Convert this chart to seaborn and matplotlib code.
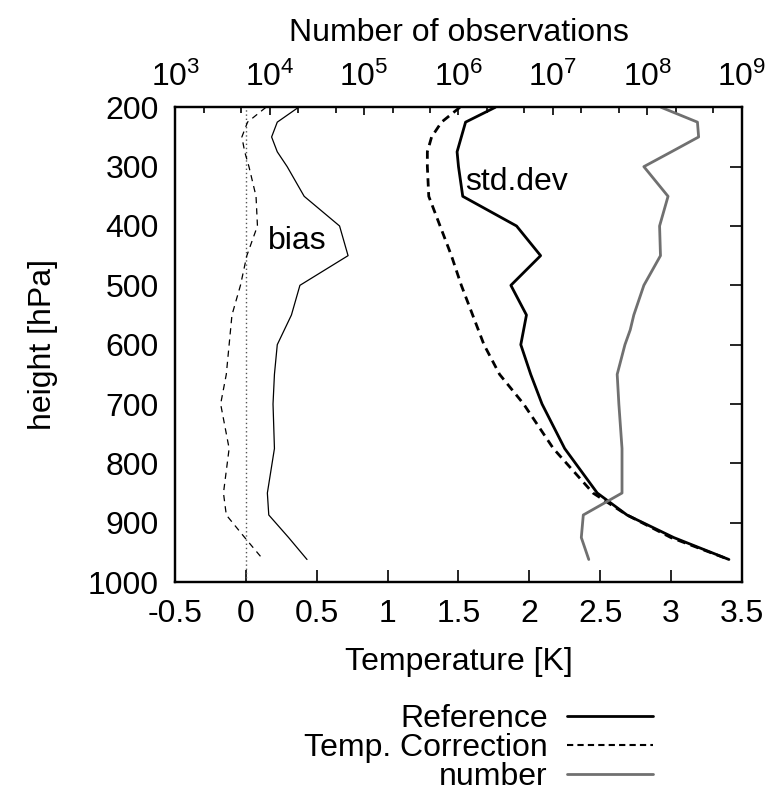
import numpy as np
import pandas as pd
import matplotlib
matplotlib.use("Agg")
import matplotlib.pyplot as plt
import seaborn as sns
from matplotlib.ticker import LogLocator, FixedLocator

# pressure levels [hPa]
levels = [200, 225, 250, 275, 300, 350, 400, 450, 500, 550, 575, 600,
          650, 700, 775, 850, 887, 925, 962]

# bias [K]
bias_ref = [0.37, 0.22, 0.18, 0.22, 0.29, 0.41, 0.66, 0.72, 0.38, 0.32, 0.27, 0.22,
            0.20, 0.19, 0.20, 0.15, 0.16, 0.30, 0.43]
bias_tc = [0.14, 0.01, -0.03, -0.01, 0.02, 0.07, 0.08, 0.005, -0.04, -0.10, -0.11, -0.12,
           -0.14, -0.18, -0.12, -0.16, -0.14, -0.01, 0.12]

# standard deviation [K]
std_ref = [1.76, 1.55, 1.52, 1.49, 1.50, 1.53, 1.91, 2.08, 1.87, 1.98, 1.96, 1.94,
           2.01, 2.09, 2.25, 2.48, 2.69, 3.02, 3.41]
std_tc = [1.51, 1.38, 1.31, 1.28, 1.28, 1.29, 1.37, 1.45, 1.52, 1.60, 1.64, 1.68,
          1.79, 1.96, 2.17, 2.45, 2.69, 3.00, 3.41]

# number of observations
n_obs = [1.4e8, 3.4e8, 3.5e8, 1.8e8, 9.2e7, 1.66e8, 1.35e8, 1.38e8, 9.2e7, 7.2e7, 6.6e7, 5.8e7,
         4.8e7, 5.0e7, 5.4e7, 5.4e7, 2.1e7, 2.0e7, 2.4e7]

xticks = [-0.5, 0, 0.5, 1, 1.5, 2, 2.5, 3, 3.5]
yticks = [200, 300, 400, 500, 600, 700, 800, 900, 1000]

df = pd.DataFrame({"p": levels, "bias_ref": bias_ref, "bias_tc": bias_tc,
                   "std_ref": std_ref, "std_tc": std_tc, "n": n_obs})

sns.set_style("white")
plt.rcParams["font.family"] = ["Liberation Sans", "DejaVu Sans"]
plt.rcParams["mathtext.fontset"] = "custom"
plt.rcParams["mathtext.rm"] = "Liberation Sans"
plt.rcParams["mathtext.it"] = "Liberation Sans"
plt.rcParams["text.color"] = "black"
plt.rcParams["axes.labelcolor"] = "black"
plt.rcParams["xtick.color"] = "black"
plt.rcParams["ytick.color"] = "black"

fs = 23
fig, ax = plt.subplots(figsize=(7.7, 7.96), dpi=100)
fig.subplots_adjust(left=0.2277, right=0.9632, top=0.8652, bottom=0.2688)

ax.axvline(0, color="#555555", lw=1, ls=(0, (1, 2)))

sns.lineplot(data=df, x="bias_ref", y="p", orient="y", sort=False, ax=ax,
             color="black", lw=0.9)
sns.lineplot(data=df, x="bias_tc", y="p", orient="y", sort=False, ax=ax,
             color="black", lw=0.9, ls=(0, (5, 4)))
sns.lineplot(data=df, x="std_ref", y="p", orient="y", sort=False, ax=ax,
             color="black", lw=2)
sns.lineplot(data=df, x="std_tc", y="p", orient="y", sort=False, ax=ax,
             color="black", lw=2, ls=(0, (3, 2)))

ax.set_xlim(-0.5, 3.5)
ax.set_ylim(1000, 200)
ax.xaxis.set_major_locator(FixedLocator(xticks))
ax.yaxis.set_major_locator(FixedLocator(yticks))
ax.set_xticklabels([f"{v:g}" for v in xticks])
ax.set_xlabel("Temperature [K]", fontsize=fs, labelpad=13)
ax.set_ylabel("height [hPa]", fontsize=fs, labelpad=21)
ax.tick_params(axis="both", labelsize=fs, direction="in", length=9, width=1.2,
               right=True, top=False, pad=12)

ax.text(0.36, 439, "bias", fontsize=fs, ha="center", va="baseline")
ax.text(1.91, 339, "std.dev", fontsize=fs, ha="center", va="baseline")

ax2 = ax.twiny()
sns.lineplot(data=df, x="n", y="p", orient="y", sort=False, ax=ax2,
             color="#707070", lw=2)
ax2.set_xscale("log")
ax2.set_xlim(1e3, 1e9)
ax2.set_ylim(1000, 200)
ax2.set_ylabel("")
ax2.xaxis.set_major_locator(LogLocator(base=10, numticks=10))
ax2.xaxis.set_minor_locator(LogLocator(base=10, subs=(2, 5), numticks=10))
ax2.set_xlabel("Number of observations", fontsize=fs, labelpad=15)
ax2.tick_params(axis="x", which="major", labelsize=fs, direction="in", length=6,
                width=1.2, pad=10)
ax2.tick_params(axis="x", which="minor", direction="in", length=4, width=1.2)

for a in (ax, ax2):
    for s in a.spines.values():
        s.set_linewidth(1.6)
        s.set_color("black")

handles = [
    plt.Line2D([], [], color="black", lw=2),
    plt.Line2D([], [], color="black", lw=1.5, ls=(0, (3, 2))),
    plt.Line2D([], [], color="#707070", lw=2),
]
fig.legend(handles, ["Reference", "Temp. Correction", "number"],
           loc="upper right", bbox_to_anchor=(0.848, 0.115), markerfirst=False,
           frameon=False, fontsize=fs, handlelength=2.7, handletextpad=0.6,
           labelspacing=-0.04, borderaxespad=0, borderpad=0)

fig.savefig("out.png", dpi=100)
